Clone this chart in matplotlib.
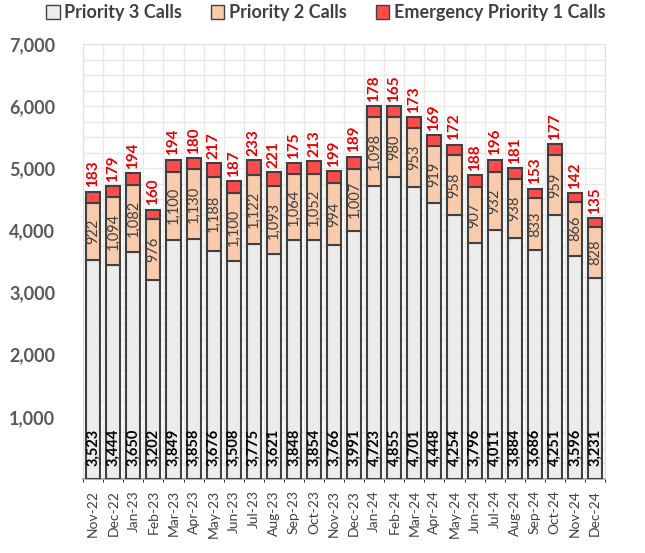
import numpy as np
import matplotlib.pyplot as plt
from matplotlib.ticker import FuncFormatter, MultipleLocator
from matplotlib.patches import Patch

months = ['Nov-22', 'Dec-22', 'Jan-23', 'Feb-23', 'Mar-23', 'Apr-23', 'May-23', 'Jun-23',
          'Jul-23', 'Aug-23', 'Sep-23', 'Oct-23', 'Nov-23', 'Dec-23', 'Jan-24', 'Feb-24',
          'Mar-24', 'Apr-24', 'May-24', 'Jun-24', 'Jul-24', 'Aug-24', 'Sep-24', 'Oct-24',
          'Nov-24', 'Dec-24']
priority3 = [3523, 3444, 3650, 3202, 3849, 3858, 3676, 3508, 3775, 3621, 3848, 3854, 3766,
             3991, 4723, 4855, 4701, 4448, 4254, 3796, 4011, 3884, 3686, 4251, 3596, 3231]
priority2 = [922, 1094, 1082, 976, 1100, 1130, 1188, 1100, 1122, 1093, 1064, 1052, 994,
             1007, 1098, 980, 953, 919, 958, 907, 932, 938, 833, 959, 866, 828]
priority1 = [183, 179, 194, 160, 194, 180, 217, 187, 233, 221, 175, 213, 199, 189, 178,
             165, 173, 169, 172, 188, 196, 181, 153, 177, 142, 135]

plt.rcParams['font.family'] = ['Lato', 'DejaVu Sans']

c3 = '#ececec'
c2 = '#f8cbad'
c1 = '#ff4b4b'
edge = '#404040'

fig = plt.figure(figsize=(6.45, 5.53), dpi=100)
ax = fig.add_axes([0.129, 0.134, 0.809, 0.786])

x = np.arange(len(months))
p3 = np.array(priority3)
p2 = np.array(priority2)
p1 = np.array(priority1)

ax.bar(x, p3, width=0.7, color=c3, edgecolor=edge, linewidth=1.5, zorder=3)
ax.bar(x, p2, width=0.7, bottom=p3, color=c2, edgecolor=edge, linewidth=1.5, zorder=3)
ax.bar(x, p1, width=0.7, bottom=p3 + p2, color=c1, edgecolor=edge, linewidth=1.5, zorder=3)

fmt = lambda v: f'{v:,}'
for i in range(len(months)):
    ax.text(x[i], 200, fmt(p3[i]), rotation=90, ha='center', va='bottom',
            fontsize=10.5, fontweight='bold', color='black', zorder=4)
    ax.text(x[i], p3[i] + p2[i] / 2, fmt(p2[i]), rotation=90, ha='center', va='center',
            fontsize=10.5, color='#404040', zorder=4)
    ax.text(x[i], p3[i] + p2[i] + p1[i] + 70, fmt(p1[i]), rotation=90, ha='center',
            va='bottom', fontsize=11, fontweight='bold', color='#e60000', zorder=4)

ax.set_xlim(-0.5, len(months) - 0.5)
ax.set_ylim(0, 7000)
ax.set_xticks(x)
ax.set_xticklabels(months, rotation=90, fontsize=10, color='#404040')
ax.yaxis.set_major_locator(MultipleLocator(1000))
ax.yaxis.set_minor_locator(MultipleLocator(250))
ax.yaxis.set_major_formatter(FuncFormatter(lambda v, p: '' if v == 0 else f'{int(v):,}'))
for lbl in ax.get_yticklabels():
    lbl.set_fontweight('bold')
ax.tick_params(axis='y', labelsize=13, labelcolor='#595959', length=0, pad=20)
ax.tick_params(axis='y', which='minor', length=0)
ax.tick_params(axis='x', length=0, pad=8)

ax.grid(axis='y', which='both', color='#e8e8e8', linewidth=1, zorder=0)
ax.set_xticks(np.arange(-0.5, len(months)), minor=True)
ax.grid(axis='x', which='minor', color='#e8e8e8', linewidth=1, zorder=0)
ax.grid(axis='x', which='major', visible=False)
for s in ['top', 'right', 'left']:
    ax.spines[s].set_color('#e0e0e0')
ax.spines['bottom'].set_color('#b0b0b0')
ax.spines['bottom'].set_linewidth(1.5)

handles = [Patch(facecolor=c3, edgecolor=edge, label='Priority 3 Calls'),
           Patch(facecolor=c2, edgecolor=edge, label='Priority 2 Calls'),
           Patch(facecolor=c1, edgecolor=edge, label='Emergency Priority 1 Calls')]
fig.legend(handles=handles, loc='center', bbox_to_anchor=(0.505, 0.977), ncol=3, frameon=False,
           prop={'weight': 'bold', 'size': 13}, labelcolor='#404040',
           handlelength=0.75, handleheight=0.75, handletextpad=0.25, columnspacing=1.6)

fig.savefig('out.png', dpi=100)
